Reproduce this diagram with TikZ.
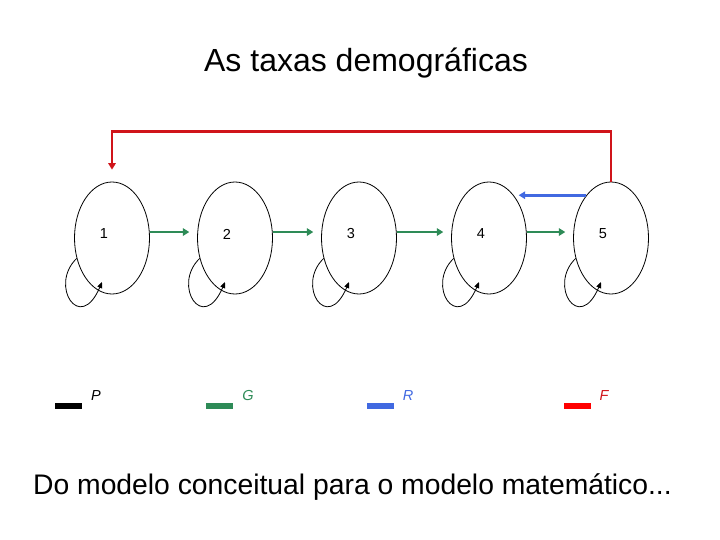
\documentclass[tikz,border=0pt]{standalone}
\usepackage{fontspec}
\setmainfont{Liberation Sans}
\usepackage{xcolor}
\usetikzlibrary{arrows.meta,positioning,shapes.geometric}
\definecolor{popGreen}{HTML}{2E8B57}
\definecolor{popBlue}{HTML}{4169E1}
\definecolor{popRed}{HTML}{D0141A}
\definecolor{popBar}{HTML}{FF0000}

\begin{document}
\begin{tikzpicture}[
  x=1pt, y=-1pt,
  font=\fontsize{14.5}{16}\selectfont,
  stage/.style={draw, ellipse, line width=0.8pt, minimum width=75pt, minimum height=112pt, inner sep=0pt},
  growarrow/.style={-{Triangle[length=6.5pt,width=7.5pt]}, line width=2.6pt, popGreen, shorten >=8pt},
  regarrow/.style={-{Triangle[length=6.5pt,width=7.5pt]}, line width=3.4pt, popBlue, shorten >=5pt},
  fecarrow/.style={-{Triangle[length=6.5pt,width=7.5pt]}, line width=2.6pt, popRed, shorten >=12pt},
  selfloop/.style={-{Triangle[length=6pt,width=5pt]}, line width=0.8pt},
  legbar/.style={rectangle, minimum width=27pt, minimum height=6pt, inner sep=0pt},
  legtext/.style={font=\fontsize{14.5}{16}\selectfont\itshape}
]
\useasboundingbox (0,0) rectangle (720,540);

\node[anchor=base, font=\fontsize{32}{36}\selectfont] (title) at (366,72) {As taxas demográficas};

% stages
\foreach \i/\x in {1/112,2/235,3/359,4/489,5/611}
  \node[stage, label={[shift={(-8pt,4pt)}]center:\i}] (n\i) at (\x,238) {};

% growth between stages
\foreach \i/\j in {1/2,2/3,3/4,4/5}
  \draw[growarrow] (n\i.9) -- (n\j.171);

% permanence loops
\foreach \i in {1,...,5}{
  \path (n\i.center) ++(-10,44) coordinate (t\i);
  \draw[selfloop] (n\i.210) .. controls +(-28,27) and +(-22,52) .. (t\i);
}

% regression and fecundity
\draw[regarrow] (n5.120) -- (n4.60);
\draw[fecarrow] (n5.north) -- ++(0,-50) -| (n1.north);

% legend
\foreach \nm/\col/\tcol/\bx/\lx in {P/black/black/68/96, G/popGreen/popGreen/219.5/248, R/popBlue/popBlue/380.5/408, F/popBar/popRed/577.5/604}{
  \node[legbar, fill=\col] (b\nm) at (\bx,406) {};
  \node[legtext, text=\tcol] (l\nm) at (\lx,396) {\nm};
}

\node[anchor=base, font=\fontsize{28.3}{32}\selectfont] (caption) at (352.5,494) {Do modelo conceitual para o modelo matemático...};
\end{tikzpicture}
\end{document}
